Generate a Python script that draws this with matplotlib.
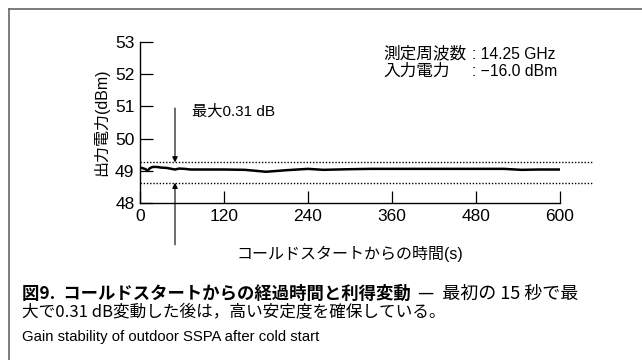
import matplotlib.pyplot as plt
from matplotlib.lines import Line2D

plt.rcParams['font.family'] = ['Liberation Sans', 'Noto Sans CJK JP', 'DejaVu Sans']
JP = ['Noto Sans CJK JP', 'DejaVu Sans']

# output power after cold start (s, dBm)
time_s = [0, 4, 8, 11, 14, 18, 24, 30, 38, 45, 50, 56, 64, 72, 90, 120, 150,
          180, 210, 240, 262, 300, 330, 400, 460, 520, 545, 570, 600]
power_dbm = [49.10, 49.08, 49.05, 49.00, 49.08, 49.12, 49.12, 49.10, 49.09, 49.06,
             49.04, 49.07, 49.06, 49.04, 49.04, 49.04, 49.03, 48.97, 49.02, 49.06,
             49.03, 49.05, 49.06, 49.06, 49.06, 49.06, 49.03, 49.04, 49.04]
upper_limit = 49.26
lower_limit = 48.63
peak_time = 50

x_ticks = [0, 120, 240, 360, 480, 600]
y_ticks = [48, 49, 50, 51, 52, 53]

fig = plt.figure(figsize=(6.42, 3.6), dpi=100)
ax = fig.add_axes([140 / 642, 1 - 203 / 360, 420 / 642, 161 / 360])

ax.plot(time_s, power_dbm, color='black', lw=1.8)
for lim in (upper_limit, lower_limit):
    ax.plot([0, 645], [lim, lim], color='black', ls=(0, (1, 1.3)), lw=1.0, clip_on=False)

# arrows marking the max deviation
for start, end in ((50.95, upper_limit), (46.7, lower_limit)):
    ax.annotate('', xy=(peak_time, end), xytext=(peak_time, start),
                arrowprops=dict(arrowstyle='-|>', color='black', lw=0.8,
                                mutation_scale=8, shrinkA=0, shrinkB=0),
                annotation_clip=False)
ax.text(75, 50.85, '最大0.31 dB', fontsize=11, va='center', ha='left')

# measurement conditions
ax.text(348, 52.62, '測定周波数', fontsize=12, va='center', ha='left', family=JP)
ax.text(348, 52.08, '入力電力', fontsize=12, va='center', ha='left', family=JP)
ax.text(474, 52.62, ': 14.25 GHz', fontsize=11.3, va='center', ha='left')
ax.text(474, 52.08, ': −16.0 dBm', fontsize=11.3, va='center', ha='left')

ax.set_xlim(0, 600)
ax.set_ylim(48, 53)
ax.set_xticks(x_ticks)
ax.set_yticks(y_ticks)
ax.tick_params(direction='in', length=9, width=0.9, labelsize=12.5, pad=4)
for s in ('top', 'right'):
    ax.spines[s].set_visible(False)
for s in ('left', 'bottom'):
    ax.spines[s].set_linewidth(1.0)
ax.set_xlabel('コールドスタートからの時間(s)', fontsize=11.5, labelpad=16)
ax.set_ylabel('出力電力(dBm)', fontsize=11.5, labelpad=4)

# frame of the figure box
fig.add_artist(Line2D([9 / 642, 9 / 642], [0, 1 - 9 / 360], color='#666666', lw=1.2))
fig.add_artist(Line2D([9 / 642, 1], [1 - 9 / 360, 1 - 9 / 360], color='#666666', lw=1.2))

fig.text(22 / 642, 1 - 294 / 360, '図9.  コールドスタートからの経過時間と利得変動',
         fontsize=12.5, fontweight='bold', va='center', family=JP)
fig.text(418 / 642, 1 - 294 / 360, '—  最初の 15 秒で最',
         fontsize=13, va='center', family=JP)
fig.text(22 / 642, 1 - 313 / 360, '大で0.31 dB変動した後は，高い安定度を確保している。',
         fontsize=12, va='center', family=JP)
fig.text(22 / 642, 1 - 337 / 360, 'Gain stability of outdoor SSPA after cold start',
         fontsize=10.7, va='center')

fig.savefig('out.png', dpi=100)
